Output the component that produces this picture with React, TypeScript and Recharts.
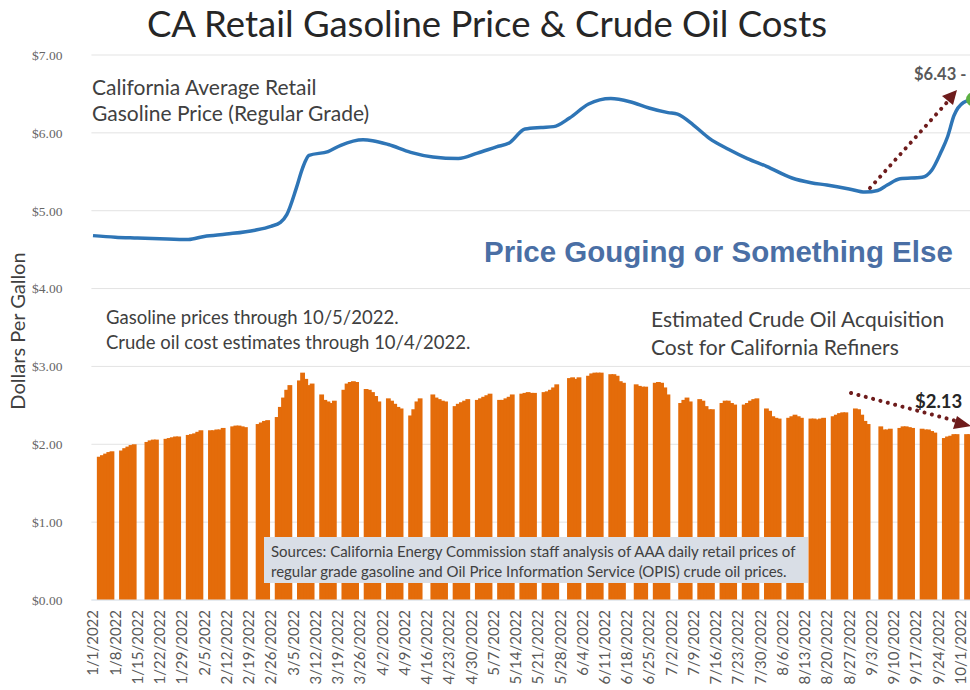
import { ComposedChart, Bar, Line, XAxis, YAxis, CartesianGrid } from 'recharts'

// daily axis 1/1/2022 – 10/5/2022
const dayCount = 278

const tickLabels = [
  '1/1/2022', '1/8/2022', '1/15/2022', '1/22/2022', '1/29/2022', '2/5/2022', '2/12/2022', '2/19/2022',
  '2/26/2022', '3/5/2022', '3/12/2022', '3/19/2022', '3/26/2022', '4/2/2022', '4/9/2022', '4/16/2022',
  '4/23/2022', '4/30/2022', '5/7/2022', '5/14/2022', '5/21/2022', '5/28/2022', '6/4/2022', '6/11/2022',
  '6/18/2022', '6/25/2022', '7/2/2022', '7/9/2022', '7/16/2022', '7/23/2022', '7/30/2022', '8/6/2022',
  '8/13/2022', '8/20/2022', '8/27/2022', '9/3/2022', '9/10/2022', '9/17/2022', '9/24/2022', '10/1/2022',
]

const yTicks = [0, 1, 2, 3, 4, 5, 6, 7]

// CA average retail regular gasoline ($/gal)
const gasDates = [
  '1/1/2022', '1/8/2022', '1/15/2022', '1/22/2022', '1/31/2022', '2/5/2022', '2/12/2022', '2/21/2022',
  '2/26/2022', '3/1/2022', '3/3/2022', '3/6/2022', '3/8/2022', '3/10/2022', '3/16/2022', '3/20/2022',
  '3/27/2022', '3/30/2022', '4/4/2022', '4/11/2022', '4/18/2022', '4/26/2022', '5/2/2022', '5/8/2022',
  '5/12/2022', '5/17/2022', '5/22/2022', '5/26/2022', '5/31/2022', '6/6/2022', '6/13/2022', '6/19/2022',
  '6/25/2022', '7/1/2022', '7/4/2022', '7/9/2022', '7/14/2022', '7/20/2022', '7/26/2022', '8/1/2022',
  '8/9/2022', '8/15/2022', '8/20/2022', '8/27/2022', '9/1/2022', '9/5/2022', '9/8/2022', '9/12/2022',
  '9/19/2022', '9/22/2022', '9/25/2022', '9/27/2022', '9/29/2022', '10/2/2022', '10/5/2022',
]
const gasPrices = [
  4.68, 4.66, 4.65, 4.64, 4.63, 4.67, 4.70, 4.75,
  4.80, 4.85, 4.95, 5.29, 5.55, 5.71, 5.76, 5.84,
  5.91, 5.90, 5.85, 5.75, 5.69, 5.67, 5.74, 5.82,
  5.87, 6.05, 6.07, 6.08, 6.19, 6.37, 6.44, 6.40,
  6.32, 6.26, 6.24, 6.10, 5.93, 5.79, 5.67, 5.57,
  5.42, 5.36, 5.33, 5.28, 5.24, 5.26, 5.33, 5.41,
  5.43, 5.52, 5.76, 5.95, 6.22, 6.39, 6.43,
]

// estimated crude oil acquisition cost, Mon–Fri of each week above (null = market holiday / no data)
const crudeWeeks: (number | null)[][] = [
  [1.84, 1.86, 1.88, 1.90, 1.91],
  [1.92, 1.95, 1.97, 1.99, 2.00],
  [null, 2.03, 2.05, 2.06, 2.06],
  [2.07, 2.08, 2.09, 2.10, 2.10],
  [2.12, 2.13, 2.14, 2.16, 2.18],
  [2.18, 2.18, 2.19, 2.19, 2.21],
  [2.23, 2.24, 2.24, 2.23, 2.22],
  [null, 2.26, 2.28, 2.30, 2.31],
  [2.35, 2.48, 2.60, 2.70, 2.76],
  [2.82, 2.92, 2.84, 2.76, 2.78],
  [2.64, 2.57, 2.55, 2.53, 2.56],
  [2.70, 2.78, 2.80, 2.81, 2.80],
  [2.71, 2.70, 2.67, 2.62, 2.55],
  [2.59, 2.56, 2.52, 2.48, 2.46],
  [2.37, 2.45, 2.55, 2.59, null],
  [2.64, 2.60, 2.58, 2.56, 2.55],
  [2.49, 2.52, 2.54, 2.56, 2.58],
  [2.57, 2.59, 2.61, 2.63, 2.65],
  [2.57, 2.57, 2.59, 2.61, 2.64],
  [2.65, 2.66, 2.67, 2.66, 2.66],
  [2.67, 2.68, 2.70, 2.73, 2.77],
  [null, 2.85, 2.86, 2.84, 2.86],
  [2.88, 2.91, 2.92, 2.92, 2.92],
  [2.90, 2.90, 2.88, 2.81, 2.79],
  [null, 2.77, 2.75, 2.74, 2.74],
  [2.79, 2.80, 2.79, 2.73, 2.64],
  [null, 2.53, 2.57, 2.60, 2.55],
  [2.58, 2.56, 2.49, 2.45, 2.45],
  [2.53, 2.56, 2.56, 2.53, 2.51],
  [2.51, 2.53, 2.56, 2.58, 2.59],
  [2.46, 2.43, 2.36, 2.34, 2.33],
  [2.34, 2.36, 2.38, 2.36, 2.34],
  [2.33, 2.33, 2.32, 2.33, 2.34],
  [2.36, 2.38, 2.40, 2.41, 2.41],
  [2.46, 2.45, 2.38, 2.30, 2.26],
  [null, 2.23, 2.19, 2.19, 2.20],
  [2.21, 2.23, 2.23, 2.22, 2.21],
  [2.20, 2.19, 2.19, 2.17, 2.15],
  [2.08, 2.10, 2.11, 2.13, 2.13],
  [2.13, 2.13],
]

const days: string[] = []
for (let i = 0; i < dayCount; i++) {
  const d = new Date(2022, 0, 1 + i)
  days.push(`${d.getMonth() + 1}/${d.getDate()}/${d.getFullYear()}`)
}

const data = days.map((date, i) => {
  const week = Math.floor(i / 7)
  const dow = (i % 7) - 2 // weeks start on Saturday
  const crude = dow >= 0 && crudeWeeks[week] ? crudeWeeks[week][dow] ?? null : null
  const g = gasDates.indexOf(date)
  return { date, crude, gas: g >= 0 ? gasPrices[g] : null }
})

const FONT = 'Lato, "Open Sans", sans-serif'

const CrudeBar = (props: any) => {
  const { x, y, width, height } = props
  if (!height || height <= 0) return <g />
  const pad = 0.9
  return <rect x={x - pad} y={y} width={width + 2 * pad} height={height} fill="#E46C0A" />
}

const DateTick = ({ x, y, payload }: any) => (
  <text
    transform={`translate(${x + 5.5},${y + 8}) rotate(-90)`}
    textAnchor="end"
    fontSize={15}
    fill="#595959"
    fontFamily={FONT}
  >
    {payload.value}
  </text>
)

const EndDot = (props: any) => {
  const { cx, cy, index } = props
  if (index !== data.length - 1 || cy == null) return <g key={index} />
  return <circle key={index} cx={cx} cy={cy} r={7} fill="#5DB043" />
}

export default function App() {
  return (
    <div style={{ position: 'absolute', left: 0, top: 0, width: 970, height: 690, overflow: 'hidden', background: '#fff' }}>
      <ComposedChart
        width={990}
        height={690}
        data={data}
        margin={{ top: 55, right: 15.4, bottom: 5, left: 0 }}
        barCategoryGap={0}
      >
        <CartesianGrid vertical={false} stroke="#E3E3E3" />
        <XAxis
          dataKey="date"
          ticks={tickLabels}
          interval={0}
          tick={<DateTick />}
          tickLine={false}
          axisLine={{ stroke: '#DCE6F0' }}
          tickSize={0}
          height={85}
        />
        <YAxis
          domain={[0, 7]}
          ticks={yTicks}
          width={91.4}
          axisLine={false}
          tickLine={false}
          tickSize={0}
          tickMargin={29}
          tickFormatter={(v) => `$${v.toFixed(2)}`}
          tick={{ fill: '#666', fontSize: 13.5, fontFamily: '"Liberation Serif", serif' }}
        />
        <Bar dataKey="crude" shape={<CrudeBar />} isAnimationActive={false} />
        <Line
          dataKey="gas"
          type="monotone"
          connectNulls
          stroke="#2E75B6"
          strokeWidth={3.5}
          dot={<EndDot />}
          activeDot={false}
          isAnimationActive={false}
        />
      </ComposedChart>

      <svg width={970} height={690} style={{ position: 'absolute', left: 0, top: 0, pointerEvents: 'none' }}>
        <text x={487} y={37} textAnchor="middle" fontSize={36.5} fill="#262626" fontFamily={FONT}>
          CA Retail Gasoline Price &amp; Crude Oil Costs
        </text>
        <text
          transform="translate(25,331) rotate(-90)"
          textAnchor="middle"
          fontSize={20}
          fill="#404040"
          fontFamily={FONT}
        >
          Dollars Per Gallon
        </text>
        <g fontFamily={FONT} fill="#404040">
          <text x={92} y={95} fontSize={21}>California Average Retail</text>
          <text x={92} y={121} fontSize={21}>Gasoline Price (Regular Grade)</text>
          <text x={106} y={324} fontSize={18.5}>Gasoline prices through 10/5/2022.</text>
          <text x={106} y={349} fontSize={18.5}>Crude oil cost estimates through 10/4/2022.</text>
          <text x={651} y={327} fontSize={21}>Estimated Crude Oil Acquisition</text>
          <text x={651} y={355} fontSize={21}>Cost for California Refiners</text>
        </g>
        <text x={484} y={262} fontSize={29.5} fontWeight="bold" fill="#4A6FA5" fontFamily='"Liberation Sans", Arial, sans-serif'>
          Price Gouging or Something Else
        </text>

        <rect x={264} y={537} width={544} height={46} fill="#D9DEE6" />
        <g fontFamily={FONT} fill="#404040" fontSize={15}>
          <text x={271} y={557}>Sources: California Energy Commission staff analysis of AAA daily retail prices of</text>
          <text x={271} y={577}>regular grade gasoline and Oil Price Information Service (OPIS) crude oil prices.</text>
        </g>

        <line x1={870} y1={188} x2={950} y2={99} stroke="#6E1C1C" strokeWidth={4} strokeDasharray="0.1 7.5" strokeLinecap="round" />
        <path d="M957,90 L942,96 L953,105 Z" fill="#6E1C1C" />
        <text x={914} y={80} fontSize={16.5} fontWeight="bold" fill="#595959" fontFamily={FONT}>$6.43 -</text>

        <line x1={851} y1={393} x2={960} y2={422} stroke="#6E1C1C" strokeWidth={4} strokeDasharray="0.1 7.5" strokeLinecap="round" />
        <path d="M971,426 L957,416 L953,429 Z" fill="#6E1C1C" />
        <text x={915} y={408} fontSize={18.5} fontWeight="bold" fill="#262626" fontFamily={FONT}>$2.13</text>
      </svg>
    </div>
  )
}
